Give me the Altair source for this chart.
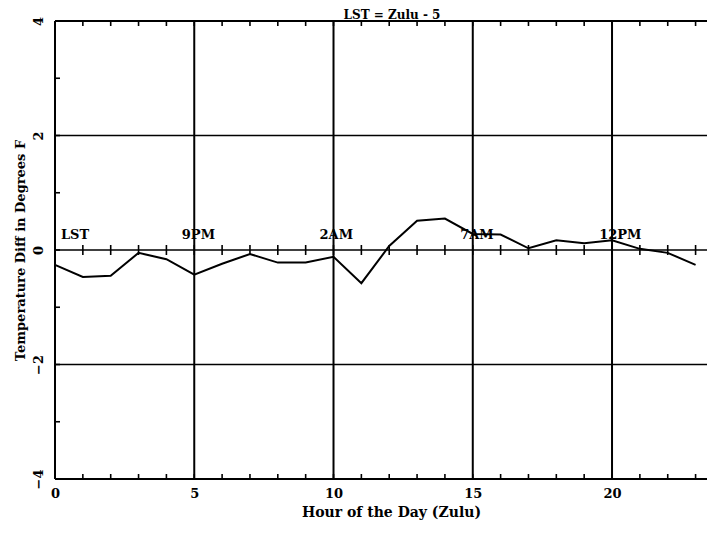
import altair as alt
import pandas as pd

# ---- data ----
hours = list(range(24))
temp_diff = [-0.26, -0.47, -0.45, -0.05, -0.16, -0.43, -0.24, -0.07, -0.22, -0.22,
             -0.12, -0.58, 0.07, 0.51, 0.55, 0.28, 0.27, 0.03, 0.17, 0.12,
             0.17, 0.02, -0.05, -0.26]
x_tick_values = [0, 5, 10, 15, 20]
y_tick_values = [-4, -2, 0, 2, 4]
grid_x = [5, 10, 15, 20]
grid_y = [-2, 0, 2]
minor_hours = list(range(24))
minor_y = [-4, -3, -2, -1, 0, 1, 2, 3, 4]
lst_labels = ["LST", "9PM", "2AM", "7AM", "12PM"]
lst_hours = [0.72, 5.15, 10.1, 15.15, 20.3]
lst_level = 0.27
title_text = "LST = Zulu - 5"

FONT = "DejaVu Serif"
W, H = 652, 458

xs = alt.Scale(domain=[0, 23.41], nice=False, zero=False)
ys = alt.Scale(domain=[-4, 4], nice=False, zero=False)

line_df = pd.DataFrame({"hour": hours, "diff": temp_diff})

xaxis = alt.Axis(values=x_tick_values, grid=False, ticks=False, tickSize=0, domain=False,
                 labelFont=FONT, labelFontSize=13, labelFontWeight="bold", labelColor="black",
                 labelPadding=8, labelFlush=False,
                 title="Hour of the Day (Zulu)", titleFont=FONT, titleFontSize=14,
                 titleFontWeight="bold", titleColor="black",
                 titleX=336, titleY=33, titleAlign="center", titleBaseline="middle")
yaxis = alt.Axis(values=y_tick_values, grid=False, ticks=False, tickSize=0, domain=False,
                 labelFont=FONT, labelFontSize=13, labelFontWeight="bold", labelColor="black",
                 labelAngle=270, labelAlign="center", labelBaseline="middle",
                 labelPadding=17, labelFlush=False, labelOverlap=False, format="d",
                 title="Temperature Diff in Degrees F", titleFont=FONT, titleFontSize=13,
                 titleFontWeight="bold", titleColor="black", titleAngle=270,
                 titleX=-35, titleY=H / 2, titleAlign="center", titleBaseline="middle")

line = alt.Chart(line_df).mark_line(color="black", strokeWidth=2).encode(
    x=alt.X("hour:Q", scale=xs, axis=xaxis),
    y=alt.Y("diff:Q", scale=ys, axis=yaxis),
)

vgrid = alt.Chart(pd.DataFrame({"g": grid_x})).mark_rule(color="black", strokeWidth=2).encode(
    x=alt.X("g:Q", scale=xs))
hgrid = alt.Chart(pd.DataFrame({"g": grid_y})).mark_rule(color="black", strokeWidth=1.6).encode(
    y=alt.Y("g:Q", scale=ys))

frame_left = alt.Chart(pd.DataFrame({"g": [0]})).mark_rule(color="black", strokeWidth=2).encode(
    x=alt.X("g:Q", scale=xs))
frame_tb = alt.Chart(pd.DataFrame({"g": [-4, 4]})).mark_rule(color="black", strokeWidth=2).encode(
    y=alt.Y("g:Q", scale=ys))

tick_rows = [{"h": h, "lvl": lv} for lv in [-4, 0, 4] for h in minor_hours]
hticks = alt.Chart(pd.DataFrame(tick_rows)).mark_tick(
    orient="vertical", size=10, thickness=1.6, color="black", clip=True, opacity=1).encode(
    x=alt.X("h:Q", scale=xs), y=alt.Y("lvl:Q", scale=ys))

vticks = alt.Chart(pd.DataFrame({"v": minor_y, "x0": [0] * len(minor_y)})).mark_tick(
    orient="horizontal", size=10, thickness=1.6, color="black", clip=True, opacity=1).encode(
    x=alt.X("x0:Q", scale=xs), y=alt.Y("v:Q", scale=ys))

lst_df = pd.DataFrame({"lab": lst_labels, "h": lst_hours, "lvl": [lst_level] * len(lst_labels)})
lst_text = alt.Chart(lst_df).mark_text(font=FONT, fontSize=13, fontWeight="bold", color="black",
                                       align="center", baseline="middle").encode(
    x=alt.X("h:Q", scale=xs), y=alt.Y("lvl:Q", scale=ys), text="lab:N")

title = alt.Chart(pd.DataFrame({"t": [title_text], "h": [12.1]})).mark_text(
    font=FONT, fontSize=12, fontWeight="bold", color="black", align="center",
    baseline="alphabetic").encode(
    x=alt.X("h:Q", scale=xs), y=alt.value(-2.5), text="t:N")

chart = alt.layer(vgrid, hgrid, frame_left, frame_tb, hticks, vticks, line, lst_text, title).properties(
    width=W, height=H,
    autosize=alt.AutoSizeParams(type="none"),
    padding={"left": 47, "top": 13, "right": 0, "bottom": 43},
    background="white",
).configure_view(stroke=None)

chart.save("out.html", embed_options={"renderer": "svg", "actions": False})
